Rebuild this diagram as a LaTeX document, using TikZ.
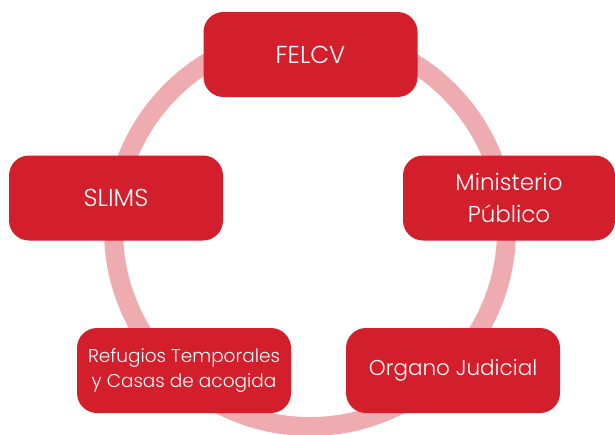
\documentclass[tikz,border=0pt]{standalone}
\usepackage{fontspec}
\setmainfont{Poppins Light}
\definecolor{boxred}{RGB}{210,31,43}
\definecolor{ringpink}{RGB}{238,172,177}
\begin{document}
\begin{tikzpicture}[x=1pt,y=-1pt,
  entity/.style={draw=none,fill=boxred,text=white,rounded corners=20pt,
    minimum width=214pt,minimum height=85pt,align=center,inner sep=0pt,
    font=\fontsize{22}{32}\selectfont},
  big/.style={font=\fontsize{24.5}{32}\selectfont},
  mid/.style={font=\fontsize{23}{32}\selectfont},
  small/.style={font=\fontsize{18.5}{25}\selectfont}]
\useasboundingbox (0,0) rectangle (615,434);
\begin{scope}
\clip (0,0) rectangle (615,434);
\draw[ringpink,line width=19pt] (310,230) circle[radius=196.5];
\end{scope}
\node[entity,big] (felcv) at (310.5,54.5) {FELCV};
\node[entity,big] (slims) at (116,198) {SLIMS};
\node[entity,mid,minimum width=212pt] (mp) at (509,198) {Ministerio\\Público};
\node[entity,small] (ref) at (184,370.5) {Refugios Temporales\\y Casas de acogida};
\node[entity,font=\fontsize{21.5}{32}\selectfont] (oj) at (453,370.5) {Organo Judicial};
\end{tikzpicture}
\end{document}
